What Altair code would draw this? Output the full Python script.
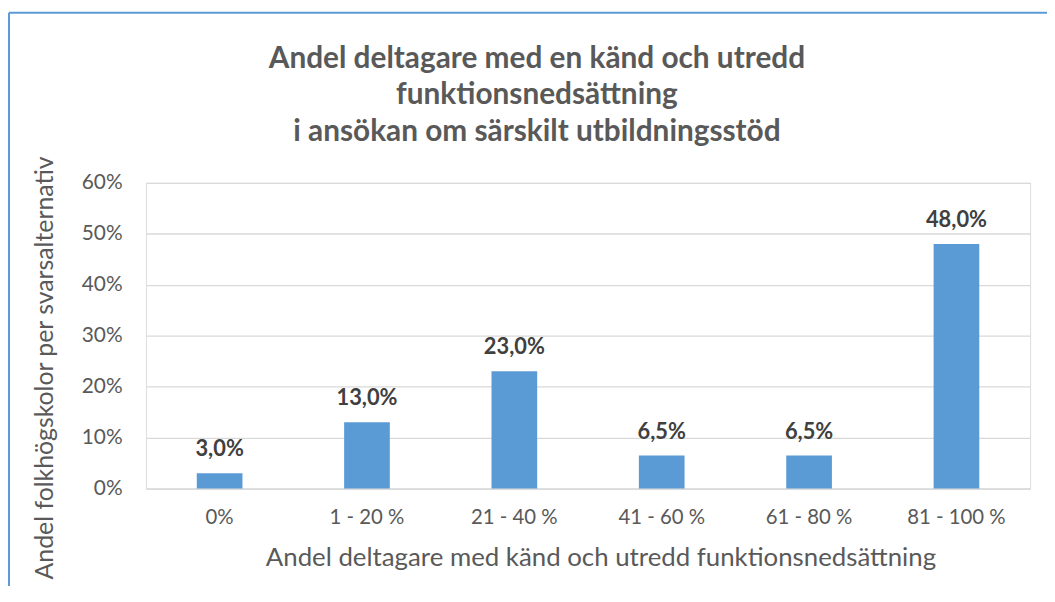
import altair as alt
import pandas as pd

categories = ["0%", "1 - 20 %", "21 - 40 %", "41 - 60 %", "61 - 80 %", "81 - 100 %"]
values = [0.03, 0.13, 0.23, 0.065, 0.065, 0.48]
labels = ["3,0%", "13,0%", "23,0%", "6,5%", "6,5%", "48,0%"]
y_ticks = [0, 0.1, 0.2, 0.3, 0.4, 0.5, 0.6]
title_lines = ["Andel deltagare med en känd och utredd", "funktionsnedsättning",
               "i ansökan om särskilt utbildningsstöd"]

df = pd.DataFrame({"cat": categories, "val": values, "lab": labels})

FONT = "Lato"
GREY = "#595959"
W, H = 891, 308

x = alt.X("cat:N", sort=categories,
          scale=alt.Scale(paddingInner=0.69, paddingOuter=0.345),
          axis=alt.Axis(title="Andel deltagare med känd och utredd funktionsnedsättning",
                        labelAngle=0, labelFontSize=20.5, labelColor=GREY, labelFont=FONT,
                        labelPadding=19, ticks=False, domainColor="#d9d9d9",
                        titleFontSize=26, titleFontWeight="normal", titleColor=GREY, titleFont=FONT,
                        titleX=458, titleY=70, titleBaseline="middle", titleAlign="center"))
y = alt.Y("val:Q", scale=alt.Scale(domain=[0, 0.6]),
          axis=alt.Axis(title="Andel folkhögskolor per svarsalternativ",
                        values=y_ticks, labelExpr="format(datum.value, '.0%')",
                        labelFontSize=21, labelColor=GREY, labelFont=FONT, labelPadding=24,
                        ticks=False, domain=False, gridColor="#d9d9d9", gridWidth=1.3,
                        titleFontSize=25, titleFontWeight="normal", titleColor=GREY, titleFont=FONT,
                        titleX=-102, titleY=186, titleAngle=270, titleBaseline="middle",
                        titleAlign="center"))

bars = alt.Chart(df).mark_bar(color="#5B9BD5").encode(x=x, y=y)
text = alt.Chart(df).mark_text(baseline="alphabetic", dy=-17, fontSize=22, fontWeight="bold",
                               color="#404040", font=FONT).encode(
    x=alt.X("cat:N", sort=categories), y="val:Q", text="lab:N")

title = alt.Chart(df.head(1)).mark_text(
    baseline="alphabetic", align="center", fontSize=30, fontWeight="bold", color=GREY,
    font=FONT, lineHeight=37, clip=False).encode(
    x=alt.value(394), y=alt.value(-116), text=alt.value(title_lines))

frame_top = alt.Chart(df.head(1)).mark_rule(color="#5B9BD5", strokeWidth=2, clip=False).encode(
    x=alt.value(-138), x2=alt.value(W + 20), y=alt.value(-171.5), y2=alt.value(-171.5))
frame_left = alt.Chart(df.head(1)).mark_rule(color="#5B9BD5", strokeWidth=2, clip=False).encode(
    x=alt.value(-138), x2=alt.value(-138), y=alt.value(-171.5), y2=alt.value(H + 120))

chart = alt.layer(bars, text, title, frame_top, frame_left).properties(
    width=W, height=H,
    autosize=alt.AutoSizeParams(type="none"),
    padding={"left": 139, "top": 174, "right": 17, "bottom": 96},
).configure_view(stroke=None).configure(background="white")

chart.save("out.html", embed_options={"renderer": "svg", "actions": False})
